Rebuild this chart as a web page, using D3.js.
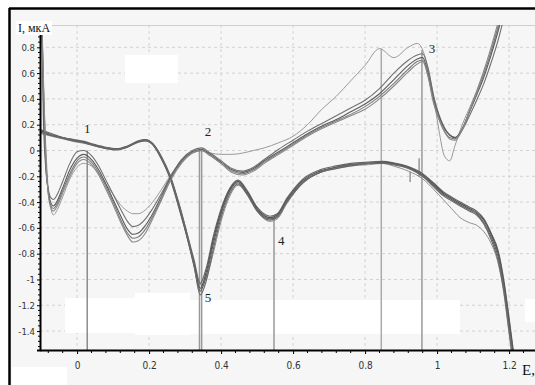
<!DOCTYPE html>
<html>
<head>
<meta charset="utf-8">
<script src="https://cdn.jsdelivr.net/npm/d3@7"></script>
<style>
	body { margin: 0; background: #fff; }
	svg { display: block; }
</style>
</head>
<body>
<svg id="chart"></svg>
<script>
// axis ticks
const xTicks = [0, 0.2, 0.4, 0.6, 0.8, 1, 1.2];
const yTicks = [0.8, 0.6, 0.4, 0.2, 0, -0.2, -0.4, -0.6, -0.8, -1, -1.2, -1.4];

// anodic (forward) sweep, E in V
const fwdE = [-0.098, -0.094, -0.088, -0.08, -0.072, -0.066, -0.055, -0.04, -0.02, 0.0,
	0.018, 0.04, 0.06, 0.08, 0.1, 0.12, 0.14, 0.155, 0.17, 0.19,
	0.21, 0.235, 0.26, 0.29, 0.32, 0.345, 0.37, 0.4, 0.43, 0.46,
	0.49, 0.52, 0.56, 0.6, 0.64, 0.68, 0.72, 0.76, 0.8, 0.84,
	0.88, 0.92, 0.945, 0.96, 0.975, 0.99, 1.005, 1.02, 1.035, 1.05,
	1.07, 1.09, 1.11, 1.13, 1.15, 1.17, 1.19];
// cycle 1 (light one)
const fwdI1 = [1.05, 0.56, 0.1, -0.3, -0.46, -0.5, -0.46, -0.36, -0.22, -0.13,
	-0.1, -0.12, -0.18, -0.26, -0.34, -0.42, -0.47, -0.49, -0.49, -0.46,
	-0.4, -0.3, -0.19, -0.08, -0.02, 0.0, -0.02, -0.03, -0.03, -0.02,
	0.0, 0.02, 0.06, 0.11, 0.2, 0.32, 0.42, 0.54, 0.66, 0.79,
	0.72, 0.8, 0.83, 0.78, 0.63, 0.42, 0.16, -0.04, -0.08, 0.04,
	0.2, 0.33, 0.46, 0.6, 0.76, 0.95, 1.17];
const fwdI2 = [1.05, 0.3, -0.1, -0.3, -0.37, -0.38, -0.34, -0.24, -0.1, -0.01,
	0.0, -0.04, -0.12, -0.23, -0.34, -0.45, -0.55, -0.59, -0.58, -0.53,
	-0.45, -0.33, -0.2, -0.07, 0.0, 0.02, -0.02, -0.08, -0.14, -0.16,
	-0.13, -0.07, 0.01, 0.08, 0.15, 0.21, 0.27, 0.33, 0.39, 0.48,
	0.6, 0.7, 0.74, 0.75, 0.64, 0.43, 0.28, 0.18, 0.12, 0.1,
	0.16, 0.27, 0.39, 0.52, 0.68, 0.86, 1.08];
const fwdI3 = [1.05, 0.45, -0.05, -0.32, -0.41, -0.43, -0.39, -0.29, -0.15, -0.06,
	-0.03, -0.07, -0.15, -0.26, -0.38, -0.5, -0.61, -0.65, -0.64, -0.58,
	-0.49, -0.35, -0.21, -0.08, -0.01, 0.01, -0.03, -0.09, -0.15, -0.17,
	-0.14, -0.08, -0.01, 0.06, 0.13, 0.19, 0.24, 0.3, 0.36, 0.44,
	0.55, 0.66, 0.71, 0.72, 0.6, 0.4, 0.27, 0.17, 0.12, 0.1,
	0.17, 0.3, 0.43, 0.57, 0.74, 0.93, 1.15];
const fwdI4 = [1.05, 0.55, 0.0, -0.33, -0.43, -0.45, -0.41, -0.31, -0.18, -0.08,
	-0.05, -0.09, -0.17, -0.28, -0.4, -0.53, -0.64, -0.68, -0.67, -0.61,
	-0.51, -0.37, -0.22, -0.09, -0.02, 0.0, -0.04, -0.1, -0.16, -0.18,
	-0.15, -0.09, -0.02, 0.05, 0.12, 0.18, 0.23, 0.28, 0.34, 0.42,
	0.52, 0.63, 0.69, 0.7, 0.58, 0.38, 0.25, 0.15, 0.1, 0.09,
	0.17, 0.3, 0.44, 0.59, 0.77, 0.97, 1.2];
const fwdI5 = [1.05, 0.6, 0.05, -0.34, -0.45, -0.47, -0.43, -0.33, -0.2, -0.1,
	-0.07, -0.11, -0.19, -0.3, -0.42, -0.55, -0.66, -0.71, -0.7, -0.64,
	-0.53, -0.38, -0.23, -0.1, -0.02, 0.0, -0.04, -0.1, -0.17, -0.19,
	-0.16, -0.1, -0.03, 0.04, 0.11, 0.17, 0.22, 0.27, 0.32, 0.4,
	0.5, 0.61, 0.67, 0.69, 0.57, 0.37, 0.24, 0.15, 0.09, 0.08,
	0.16, 0.31, 0.46, 0.62, 0.8, 1.0, 1.22];

// cathodic (reverse) sweep, E in V
const revE = [-0.1, -0.07, -0.04, -0.01, 0.02, 0.05, 0.08, 0.11, 0.14, 0.17,
	0.19, 0.21, 0.235, 0.258, 0.285, 0.308, 0.325, 0.342, 0.36, 0.378,
	0.397, 0.425, 0.447, 0.472, 0.5, 0.536, 0.556, 0.583, 0.628, 0.675,
	0.72, 0.76, 0.81, 0.85, 0.878, 0.92, 0.96, 0.99, 1.017, 1.04,
	1.064, 1.09, 1.11, 1.13, 1.15, 1.17, 1.185, 1.2, 1.214];
const revI1 = [0.13, 0.11, 0.09, 0.07, 0.055, 0.035, 0.015, 0.01, 0.03, 0.065,
	0.075, 0.045, -0.07, -0.22, -0.47, -0.7, -0.88, -1.04, -0.98, -0.8,
	-0.58, -0.35, -0.27, -0.34, -0.47, -0.55, -0.53, -0.41, -0.25, -0.17,
	-0.14, -0.12, -0.11, -0.1, -0.12, -0.16, -0.22, -0.3, -0.38, -0.45,
	-0.52, -0.56, -0.58, -0.63, -0.72, -0.88, -1.1, -1.42, -1.72];
const revI2 = [0.16, 0.13, 0.1, 0.085, 0.07, 0.045, 0.025, 0.015, 0.035, 0.075,
	0.085, 0.055, -0.05, -0.19, -0.43, -0.67, -0.85, -1.03, -0.9, -0.67,
	-0.48, -0.29, -0.23, -0.31, -0.44, -0.51, -0.49, -0.37, -0.22, -0.15,
	-0.12, -0.1, -0.09, -0.085, -0.095, -0.125, -0.18, -0.25, -0.32, -0.36,
	-0.4, -0.44, -0.47, -0.53, -0.64, -0.78, -1.0, -1.3, -1.6];
const revI3 = [0.15, 0.12, 0.1, 0.08, 0.065, 0.04, 0.02, 0.01, 0.03, 0.07,
	0.08, 0.05, -0.06, -0.2, -0.45, -0.69, -0.88, -1.07, -0.93, -0.7,
	-0.5, -0.3, -0.24, -0.32, -0.45, -0.52, -0.5, -0.38, -0.23, -0.16,
	-0.13, -0.11, -0.1, -0.09, -0.1, -0.13, -0.19, -0.26, -0.33, -0.37,
	-0.41, -0.45, -0.48, -0.54, -0.65, -0.8, -1.02, -1.32, -1.62];
const revI4 = [0.14, 0.115, 0.095, 0.075, 0.06, 0.035, 0.015, 0.005, 0.025, 0.065,
	0.075, 0.045, -0.07, -0.21, -0.46, -0.7, -0.9, -1.09, -0.96, -0.73,
	-0.52, -0.31, -0.25, -0.33, -0.46, -0.53, -0.51, -0.39, -0.24, -0.17,
	-0.13, -0.11, -0.1, -0.095, -0.105, -0.135, -0.2, -0.27, -0.34, -0.38,
	-0.42, -0.46, -0.49, -0.56, -0.67, -0.83, -1.05, -1.35, -1.65];
const revI5 = [0.145, 0.12, 0.1, 0.08, 0.06, 0.04, 0.02, 0.01, 0.03, 0.07,
	0.08, 0.05, -0.06, -0.2, -0.44, -0.68, -0.89, -1.12, -1.0, -0.77,
	-0.55, -0.33, -0.26, -0.34, -0.47, -0.54, -0.52, -0.4, -0.25, -0.17,
	-0.14, -0.12, -0.1, -0.1, -0.11, -0.14, -0.2, -0.28, -0.35, -0.39,
	-0.43, -0.47, -0.5, -0.57, -0.69, -0.86, -1.08, -1.4, -1.7];

// peak markers (vertical lines) and their numbers
const markerE = [0.028, 0.34, 0.346, 0.547, 0.845, 0.958];
const markerTop = [0.0, 0.01, 0.01, -0.52, 0.79, 0.78];
const peakNames = ["1", "2", "3", "4", "5"];
const peakE = [0.028, 0.364, 0.986, 0.567, 0.364];
const peakI = [0.174, 0.15, 0.795, -0.7, -1.143];
// two little cursor marks near E = 0.95
const cursorE = [0.925, 0.95];
const cursorFrom = [-0.165, -0.06];
const cursorTo = [-0.245, -0.205];

const width = 535, height = 385;
const margin = { left: 40, top: 25, right: 535, bottom: 350 };

const svg = d3.select("#chart")
	.attr("width", width)
	.attr("height", height);

const x = d3.scaleLinear([-0.103, 1.272], [margin.left, margin.right]);
const y = d3.scaleLinear([-1.547, 0.973], [margin.bottom, margin.top]);

const tickFont = "'Liberation Sans Narrow', 'DejaVu Sans Condensed', sans-serif";
const serif = "'Liberation Serif', 'DejaVu Serif', serif";

// panel background + frame
svg.append("rect").attr("x", 9).attr("y", 8).attr("width", width - 9).attr("height", height - 8)
	.attr("fill", "#f6f6f6");

// grid
const grid = svg.append("g").attr("stroke", "#d2d2d2").attr("stroke-dasharray", "3,3");
grid.selectAll("line.gx").data(xTicks).join("line")
	.attr("x1", d => x(d)).attr("x2", d => x(d))
	.attr("y1", margin.top).attr("y2", margin.bottom);
grid.selectAll("line.gy").data(yTicks).join("line")
	.attr("class", "gy")
	.attr("x1", margin.left).attr("x2", margin.right)
	.attr("y1", d => y(d)).attr("y2", d => y(d));
svg.append("line")
	.attr("x1", margin.left).attr("x2", margin.right)
	.attr("y1", margin.top + 0.5).attr("y2", margin.top + 0.5)
	.attr("stroke", "#cfcfcf");

// white patches in the picture
const patches = [[125, 55, 53, 28], [65, 298, 70, 35], [135, 293, 55, 42], [190, 300, 270, 34],
	[525, 299, 10, 23], [12, 367, 55, 18]];
svg.append("g").selectAll("rect").data(patches).join("rect")
	.attr("x", d => d[0]).attr("y", d => d[1]).attr("width", d => d[2]).attr("height", d => d[3])
	.attr("fill", "#fff");

// frame lines
svg.append("line").attr("x1", 9).attr("x2", width).attr("y1", 8.5).attr("y2", 8.5)
	.attr("stroke", "#000").attr("stroke-width", 2.5);
svg.append("line").attr("x1", 9.5).attr("x2", 9.5).attr("y1", 8).attr("y2", height)
	.attr("stroke", "#000").attr("stroke-width", 2.5);

// clip
svg.append("clipPath").attr("id", "plot")
	.append("rect").attr("x", margin.left).attr("y", margin.top)
	.attr("width", margin.right - margin.left).attr("height", margin.bottom - margin.top);

const plot = svg.append("g").attr("clip-path", "url(#plot)");

// marker lines
plot.append("g").selectAll("line").data(markerE).join("line")
	.attr("x1", d => x(d)).attr("x2", d => x(d))
	.attr("y1", (d, i) => y(markerTop[i])).attr("y2", margin.bottom)
	.attr("stroke", (d, i) => i === 0 ? "#555" : (i === 4 ? "#aaa" : "#999"))
	.attr("stroke-width", (d, i) => i === 0 ? 1 : 1.5);

plot.append("g").selectAll("line").data(cursorE).join("line")
	.attr("x1", d => x(d)).attr("x2", d => x(d))
	.attr("y1", (d, i) => y(cursorFrom[i])).attr("y2", (d, i) => y(cursorTo[i]))
	.attr("stroke", "#666").attr("stroke-width", 1);

// curves
const line = d3.line()
	.x(d => x(d[0]))
	.y(d => y(d[1]))
	.curve(d3.curveMonotoneX);

const series = [
	{ E: fwdE, I: fwdI1, color: "#9a9a9a", w: 1 },
	{ E: revE, I: revI1, color: "#8c8c8c", w: 1 },
	{ E: fwdE, I: fwdI2, color: "#707070", w: 1.1 },
	{ E: revE, I: revI2, color: "#666", w: 1.2 },
	{ E: fwdE, I: fwdI3, color: "#5a5a5a", w: 1.1 },
	{ E: revE, I: revI3, color: "#555", w: 1.2 },
	{ E: fwdE, I: fwdI4, color: "#7a7a7a", w: 1.1 },
	{ E: revE, I: revI4, color: "#5f5f5f", w: 1.2 },
	{ E: fwdE, I: fwdI5, color: "#888", w: 1.1 },
	{ E: revE, I: revI5, color: "#6a6a6a", w: 1.2 },
];

plot.append("g").selectAll("path").data(series).join("path")
	.attr("d", s => line(s.E.map((e, i) => [e, s.I[i]])))
	.attr("fill", "none")
	.attr("stroke", s => s.color)
	.attr("stroke-width", s => s.w);

// peak numbers
svg.append("g").selectAll("text").data(peakNames).join("text")
	.attr("x", (d, i) => x(peakE[i]))
	.attr("y", (d, i) => y(peakI[i]))
	.attr("dy", "0.35em")
	.attr("text-anchor", "middle")
	.attr("font-family", serif)
	.attr("font-size", 13)
	.attr("fill", "#222")
	.text(d => d);

// axes
const fmt = d => String(+d.toFixed(1));

const yAxis = svg.append("g")
	.attr("transform", `translate(${margin.left}, 0)`)
	.call(d3.axisLeft(y).tickValues(yTicks).tickSize(3).tickPadding(2).tickFormat(fmt))
	.call(g => g.select(".domain").attr("stroke-width", 2))
	.call(g => g.selectAll(".tick text")
		.attr("font-family", tickFont).attr("font-size", 9.5).attr("fill", "#333"));
yAxis.append("g").selectAll("line")
	.data(d3.range(-1.52, 0.97, 0.04).filter(v => Math.abs(v * 5 - Math.round(v * 5)) > 0.01))
	.join("line")
	.attr("x1", -2).attr("x2", 0)
	.attr("y1", d => y(d)).attr("y2", d => y(d))
	.attr("stroke", "#000");

const xAxis = svg.append("g")
	.attr("transform", `translate(0, ${margin.bottom})`)
	.call(d3.axisBottom(x).tickValues(xTicks).tickSize(4).tickPadding(8).tickSizeOuter(0).tickFormat(fmt))
	.call(g => g.select(".domain").attr("stroke-width", 2))
	.call(g => g.selectAll(".tick text")
		.attr("font-family", tickFont).attr("font-size", 10).attr("fill", "#333"));
xAxis.append("g").selectAll("line")
	.data(d3.range(-0.08, 1.27, 0.04).filter(v => Math.abs(v * 5 - Math.round(v * 5)) > 0.01))
	.join("line")
	.attr("x1", d => x(d)).attr("x2", d => x(d))
	.attr("y1", 0).attr("y2", 3)
	.attr("stroke", "#000");

// axis titles
svg.append("rect").attr("x", 16).attr("y", 21).attr("width", 36).attr("height", 14).attr("fill", "#fff");
svg.append("text")
	.attr("x", 18).attr("y", 32)
	.attr("font-family", serif).attr("font-size", 12).attr("fill", "#111")
	.text("I, мкА");
svg.append("text")
	.attr("x", 522).attr("y", 375)
	.attr("font-family", serif).attr("font-size", 15).attr("fill", "#111")
	.text("E,");
</script>
</body>
</html>
